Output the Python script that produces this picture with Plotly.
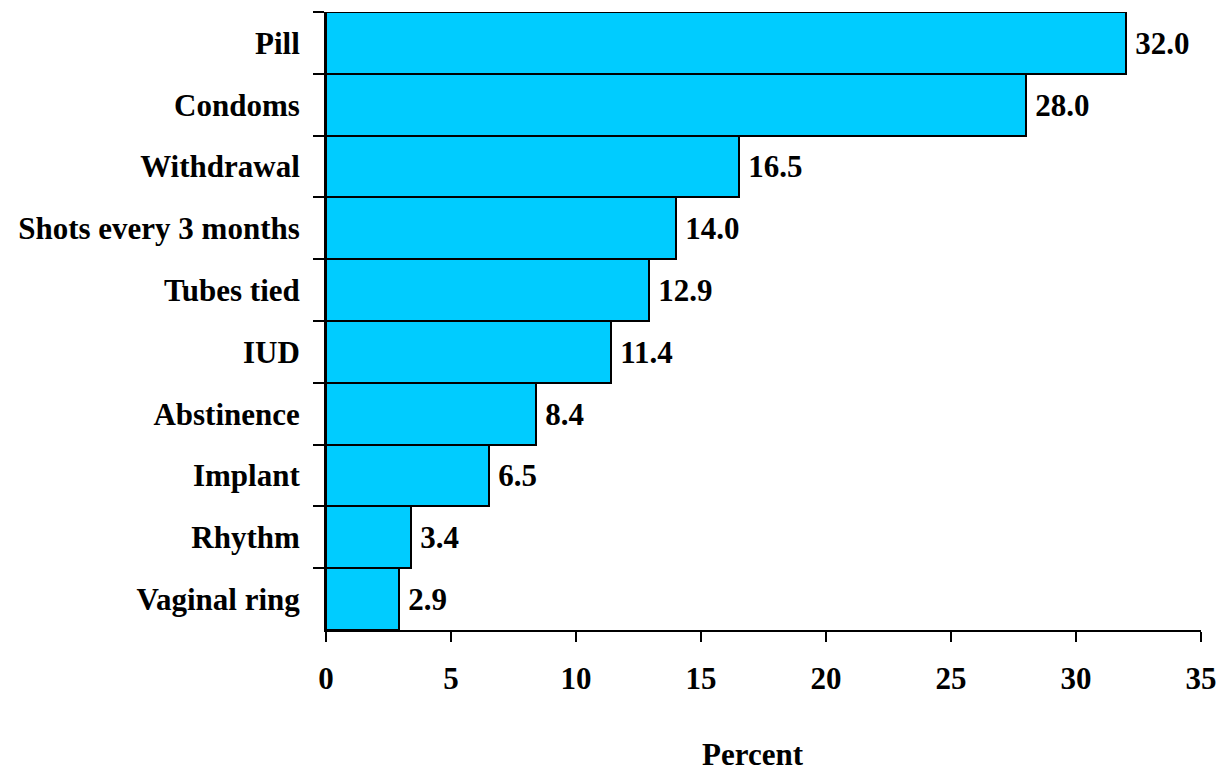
import plotly.graph_objects as go

categories = ["Pill", "Condoms", "Withdrawal", "Shots every 3 months", "Tubes tied",
              "IUD", "Abstinence", "Implant", "Rhythm", "Vaginal ring"]
values = [32.0, 28.0, 16.5, 14.0, 12.9, 11.4, 8.4, 6.5, 3.4, 2.9]
x_ticks = [0, 5, 10, 15, 20, 25, 30, 35]
x_title = "Percent"

FONT = "Liberation Serif, Times New Roman, serif"
FS = 31

fig = go.Figure(go.Bar(
    y=categories,
    x=values,
    orientation="h",
    marker=dict(color="#00CCFF", line=dict(color="black", width=2)),
    text=["\u2009" + f"{v:.1f}" for v in values],
    textposition="outside",
    textfont=dict(family=FONT, size=FS, color="black", weight="bold"),
    cliponaxis=False,
))

fig.update_layout(
    width=1220, height=771,
    margin=dict(l=326, r=19, t=12, b=141),
    paper_bgcolor="white", plot_bgcolor="white",
    bargap=0,
    showlegend=False,
    font=dict(family=FONT, color="black"),
    annotations=[dict(
        text=x_title, xref="paper", yref="paper", x=0.5, y=0,
        xanchor="center", yanchor="middle", xshift=-11, yshift=-124,
        height=28, valign="middle",
        showarrow=False,
        font=dict(family=FONT, size=FS, color="black", weight="bold"),
    )],
)

fig.update_xaxes(
    range=[0, 35],
    tickvals=x_ticks,
    ticktext=[str(t) for t in x_ticks],
    showline=True, linecolor="black", linewidth=2,
    ticks="outside", ticklen=10, tickwidth=2, tickcolor="black",
    showgrid=False, zeroline=False, automargin=False,
    tickfont=dict(family=FONT, size=FS, color="black", weight="bold"),
    ticklabelstandoff=10,
)

fig.update_yaxes(
    categoryorder="array", categoryarray=categories,
    autorange="reversed",
    showline=True, linecolor="black", linewidth=2,
    ticks="outside", tickson="boundaries", ticklen=11, tickwidth=2, tickcolor="black",
    showgrid=False, zeroline=False, automargin=False,
    tickfont=dict(family=FONT, size=FS, color="black", weight="bold"),
    ticklabelstandoff=18,
)

fig.write_html(
    "out.html",
    config={"displayModeBar": False},
    post_script="document.body.style.margin='0';document.body.style.overflow='hidden';",
)
